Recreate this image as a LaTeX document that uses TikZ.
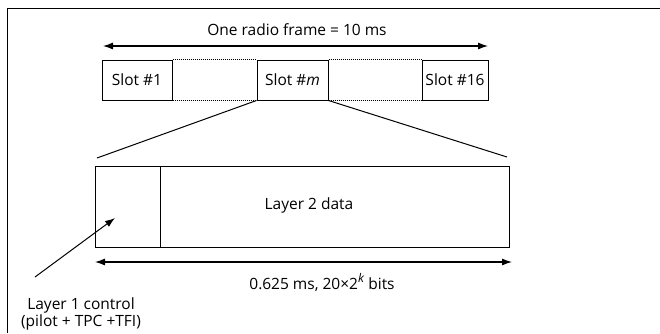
\documentclass[tikz,border=0pt]{standalone}
\usepackage{fontspec}
\setmainfont{Open Sans}
\usetikzlibrary{arrows.meta}
\begin{document}
\begin{tikzpicture}[x=1pt,y=-1pt,
  box/.style={draw,line width=1pt,inner sep=0pt},
  dim/.style={line width=1.1pt,{Latex[length=10pt,width=7pt]}-{Latex[length=10pt,width=7pt]}},
  lbl/.style={font=\fontsize{15.5}{17}\selectfont,inner sep=0pt},
  dotline/.style={line width=1pt,dash pattern=on 1pt off 1pt}]
\useasboundingbox (0,0) rectangle (660,333);
% outer frame (left and top)
\draw[line width=1pt] (7,333) -- (7,8) -- (660,8);
% top dimension
\coordinate (ta) at (103,46);
\coordinate (tb) at (488,46);
\draw[dim] (ta) -- (tb);
\node[lbl] (title) at (297,30) {One radio frame = 10 ms};
% slots
\node[box,minimum width=70pt,minimum height=40pt] (s1) at (137,80) {};
\node[lbl] at (s1) {Slot \#1};
\node[box,minimum width=71pt,minimum height=40pt] (sm) at (292.5,80) {};
\node[lbl] at (sm) {Slot \#\textit{m}};
\node[box,minimum width=66pt,minimum height=40pt] (s16) at (455,80) {};
\node[lbl] at (s16) {Slot \#16};
\draw[dotline] (s1.north east) -- (sm.north west) (sm.north east) -- (s16.north west);
\draw[dotline] (s1.south east) -- (sm.south west) (sm.south east) -- (s16.south west);
% expanded slot
\node[box,minimum width=414pt,minimum height=81pt] (big) at (302,206.5) {};
\coordinate (div1) at (160,166);
\coordinate (div2) at (160,247);
\draw[line width=1pt] (div1) -- (div2);
\node[lbl] (l2) at (309,205) {Layer 2 data};
% fan lines
\coordinate (fl) at (97,158);
\coordinate (fr) at (507,157);
\draw[line width=1pt] (sm.south west) -- (fl);
\draw[line width=1pt] (sm.south east) -- (fr);
% bottom dimension
\coordinate (ba) at (95,262);
\coordinate (bb) at (512,262);
\draw[dim] (ba) -- (bb);
\node[lbl] (dur) at (322,282) {0.625 ms, 20×2\raisebox{0.45em}{\fontsize{12}{12}\selectfont\textit{k}} bits};
% layer 1 control
\node[lbl,align=center] (l1) at (81,314) {Layer 1 control\\(pilot + TPC +TFI)};
\coordinate (l1s) at (35,277);
\coordinate (l1e) at (115,218);
\draw[line width=1pt,-{Latex[length=10pt,width=7pt]}] (l1s) -- (l1e);
\end{tikzpicture}
\end{document}
